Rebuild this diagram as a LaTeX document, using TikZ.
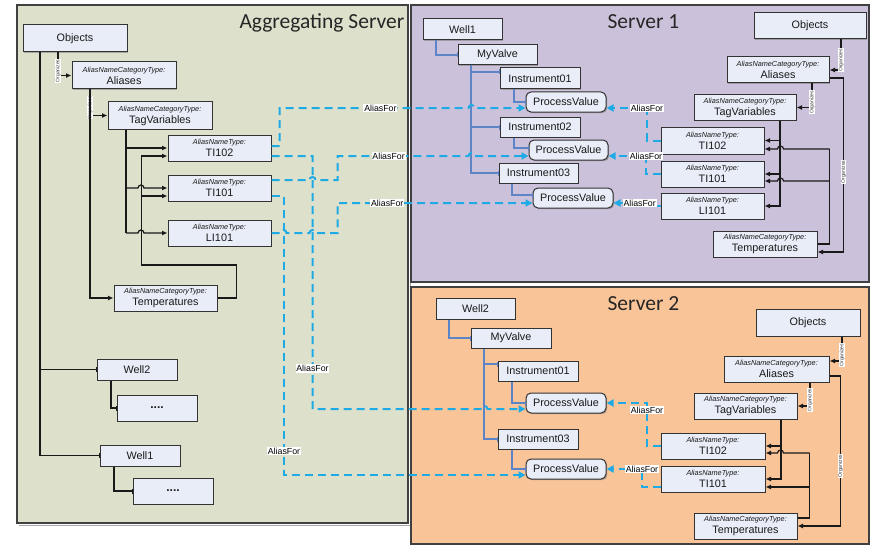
\documentclass[tikz,border=0pt]{standalone}
\usepackage{fontspec}
\setmainfont{Liberation Sans}
\newfontfamily\titlefont{Carlito}
\usetikzlibrary{arrows.meta,shadows}
\definecolor{panelA}{RGB}{221,224,203}
\definecolor{panelB}{RGB}{204,193,218}
\definecolor{panelC}{RGB}{249,196,152}
\definecolor{boxfill}{RGB}{232,237,247}
\definecolor{aliasblue}{RGB}{30,170,228}
\definecolor{compblue}{RGB}{92,132,198}
\newcommand\ctype[1]{{\fontsize{7.3}{8}\selectfont\itshape #1}\\}
\tikzset{
  box/.style={draw=black!80, line width=1pt, fill=boxfill, inner sep=0pt, align=center,
    text=black!90, font=\fontsize{10.8}{12}\selectfont,
    drop shadow={shadow xshift=1.2pt, shadow yshift=-1.2pt, fill=black!50, opacity=0.6}},
  pbox/.style={box, rounded corners=5pt},
  conn/.style={draw=black!90, line width=1.2pt, -{Latex[length=5.5pt,width=5pt]}},
  lineK/.style={draw=black!90, line width=1.2pt},
  compk/.style={draw=black!90, line width=1.2pt, -{Bar[width=5pt,line width=0.8pt]}},
  compb/.style={draw=compblue, line width=1.2pt, -{Bar[width=5pt,line width=0.8pt]}},
  aliasline/.style={draw=aliasblue, line width=2pt, dash pattern=on 8pt off 5pt,
    -{Triangle[length=7pt,width=7pt]}},
  org/.style={fill=white, inner sep=0.4pt, font=\fontsize{5}{5}\selectfont, rotate=90, text=black!80},
  afl/.style={fill=white, inner sep=0.8pt, font=\fontsize{8.8}{9}\selectfont, text=black},
  titl/.style={anchor=base west, font=\titlefont\fontsize{21.5}{24}\selectfont, text=black!85}
}
\begin{document}
\begin{tikzpicture}[x=1pt,y=-1pt]
\useasboundingbox (0,0) rectangle (876,551);
% panels
\fill[panelA] (17,5) rectangle (408,523);
\draw[black!35, line width=1pt] (19,525) -- (410,525) -- (410,7);
\draw[black!75, line width=1.2pt] (17,5) rectangle (408,523);
\fill[panelB] (411,5) rectangle (869,282);
\draw[black!75, line width=1.2pt] (411,5) rectangle (869,282);
\fill[panelC] (411,287) rectangle (869,544);
\draw[black!75, line width=1.2pt] (411,287) rectangle (869,544);
\node[titl] (ttA) at (236,29) {Aggregating Server};
\node[titl] (tt1) at (604,29) {Server 1};
\node[titl] (tt2) at (604,310) {Server 2};

% ---------- Aggregating server nodes
\node[box, minimum width=104pt, minimum height=27pt] (objA) at (75,38.5) {Objects};
\node[box, minimum width=104pt, minimum height=27pt] (aliA) at (124,75.5) {\ctype{AliasNameCategoryType:}Aliases};
\node[box, minimum width=104pt, minimum height=27pt] (tagA) at (160,115.5) {\ctype{AliasNameCategoryType:}TagVariables};
\node[box, minimum width=103pt, minimum height=26pt] (t102A) at (219.5,148) {\ctype{AliasNameType:}TI102};
\node[box, minimum width=103pt, minimum height=26pt] (t101A) at (219.5,188) {\ctype{AliasNameType:}TI101};
\node[box, minimum width=103pt, minimum height=26pt] (l101A) at (219.5,233) {\ctype{AliasNameType:}LI101};
\node[box, minimum width=103pt, minimum height=26pt] (tempA) at (165.5,298) {\ctype{AliasNameCategoryType:}Temperatures};
\node[box, minimum width=80pt, minimum height=21pt] (well2A) at (137,369.5) {Well2};
\node[box, minimum width=80pt, minimum height=26pt, font=\bfseries\fontsize{12}{12}\selectfont] (dots2A) at (157,408) {....};
\node[box, minimum width=80pt, minimum height=21pt] (well1A) at (140,455.5) {Well1};
\node[box, minimum width=80pt, minimum height=26pt, font=\bfseries\fontsize{12}{12}\selectfont] (dots1A) at (173,491) {....};

% ---------- Server 1 nodes
\node[box, minimum width=79pt, minimum height=21pt] (well1S1) at (462.5,29.5) {Well1};
\node[box, minimum width=79pt, minimum height=20pt] (mvS1) at (497.5,55) {MyValve};
\node[box, minimum width=80pt, minimum height=21pt] (i1S1) at (540,78.5) {Instrument01};
\node[pbox, minimum width=80pt, minimum height=20pt] (pv1S1) at (566,102) {ProcessValue};
\node[box, minimum width=80pt, minimum height=20pt] (i2S1) at (540,127) {Instrument02};
\node[pbox, minimum width=79pt, minimum height=20pt] (pv2S1) at (568.5,150) {ProcessValue};
\node[box, minimum width=79pt, minimum height=20pt] (i3S1) at (538.5,173) {Instrument03};
\node[pbox, minimum width=80pt, minimum height=20pt] (pv3S1) at (573,198) {ProcessValue};
\node[box, minimum width=112pt, minimum height=26pt] (objS1) at (810,26) {Objects};
\node[box, minimum width=102pt, minimum height=26pt] (aliS1) at (778,70) {\ctype{AliasNameCategoryType:}Aliases};
\node[box, minimum width=102pt, minimum height=25pt] (tagS1) at (745,107.5) {\ctype{AliasNameCategoryType:}TagVariables};
\node[box, minimum width=103pt, minimum height=27pt] (t102S1) at (712.5,140.5) {\ctype{AliasNameType:}TI102};
\node[box, minimum width=103pt, minimum height=26pt] (t101S1) at (712.5,174) {\ctype{AliasNameType:}TI101};
\node[box, minimum width=103pt, minimum height=26pt] (l101S1) at (712.5,206) {\ctype{AliasNameType:}LI101};
\node[box, minimum width=104pt, minimum height=26pt] (tempS1) at (765,244) {\ctype{AliasNameCategoryType:}Temperatures};

% ---------- Server 2 nodes
\node[box, minimum width=79pt, minimum height=21pt] (well2S2) at (475.5,308.5) {Well2};
\node[box, minimum width=80pt, minimum height=20pt] (mvS2) at (511,338) {MyValve};
\node[box, minimum width=80pt, minimum height=20pt] (i1S2) at (538,371) {Instrument01};
\node[pbox, minimum width=80pt, minimum height=20pt] (pv1S2) at (566,403) {ProcessValue};
\node[box, minimum width=80pt, minimum height=20pt] (i3S2) at (538,439) {Instrument03};
\node[pbox, minimum width=80pt, minimum height=20pt] (pv2S2) at (566,469) {ProcessValue};
\node[box, minimum width=104pt, minimum height=27pt] (objS2) at (808,322.5) {Objects};
\node[box, minimum width=105pt, minimum height=26pt] (aliS2) at (776.5,369) {\ctype{AliasNameCategoryType:}Aliases};
\node[box, minimum width=103pt, minimum height=26pt] (tagS2) at (745.5,406) {\ctype{AliasNameCategoryType:}TagVariables};
\node[box, minimum width=104pt, minimum height=26pt] (t102S2) at (713,446) {\ctype{AliasNameType:}TI102};
\node[box, minimum width=104pt, minimum height=26pt] (t101S2) at (713,479) {\ctype{AliasNameType:}TI101};
\node[box, minimum width=103pt, minimum height=26pt] (tempS2) at (745.5,526) {\ctype{AliasNameCategoryType:}Temperatures};

% ---------- Aggregating server connectors
\draw[conn] ([xshift=-17pt]objA.south) |- node[org,pos=0.4]{Organizes} (aliA.west);
\draw[conn] ([xshift=-34pt]aliA.south) |- node[org,pos=0.35]{Organizes} (tagA.west);
\draw[conn] ([xshift=-34pt]aliA.south) |- (tempA.west);
\draw[compk] ([xshift=-35pt]objA.south) |- (well2A.west);
\draw[compk] ([xshift=-35pt]objA.south) |- (well1A.west);
\draw[compk] ([xshift=-26pt]well2A.south) |- (dots2A.west);
\draw[compk] ([xshift=-26pt]well1A.south) |- (dots1A.west);
\coordinate (tgA) at ([xshift=-34pt]tagA.south);
\draw[conn] (tgA) |- (t102A.west);
\draw[lineK] (tgA) -- (tgA |- l101A.west);
\draw[conn] (tgA |- t101A.west) -- ++(12,0) arc[start angle=180,end angle=0,radius=3pt] -- (t101A.west);
\draw[conn] (tgA |- l101A.west) -- ++(12,0) arc[start angle=180,end angle=0,radius=3pt] -- (l101A.west);
\coordinate (t102Ab) at ([yshift=-8pt]t102A.west);
\coordinate (t101Ab) at ([yshift=-8pt]t101A.west);
\draw[conn] (tempA.east) -- ++(19,0) -- ++(0,-33) -- ++(-95,0) |- (t102Ab);
\draw[conn] ([xshift=-27pt]t101Ab) -- (t101Ab);

% ---------- Server 1 connectors
\draw[compb] ([xshift=-26.5pt]well1S1.south) |- (mvS1.west);
\coordinate (mvS1t) at ([xshift=-26.5pt]mvS1.south);
\draw[compb] (mvS1t) |- ([yshift=6.5pt]i1S1.west);
\draw[compb] (mvS1t) |- (i2S1.west);
\draw[compb] (mvS1t) |- (i3S1.west);
\draw[compb] ([xshift=-26pt]i1S1.south) |- (pv1S1.west);
\draw[compb] ([xshift=-26pt]i2S1.south) |- ([yshift=2pt]pv2S1.west);
\draw[compb] ([xshift=-26.5pt]i3S1.south) |- ([yshift=3pt]pv3S1.west);
\draw[conn] ([xshift=31pt]objS1.south) |- node[org,pos=0.34]{Organizes} (aliS1.east);
\draw[conn] ([xshift=34pt]aliS1.south) |- node[org,pos=0.39]{Organizes} (tagS1.east);
\draw[conn] ([yshift=-8pt]aliS1.east) -- ++(14,0) |- node[org,pos=0.27]{Organizes} ([yshift=-8pt]tempS1.east);
\coordinate (tgS1) at ([xshift=35pt]tagS1.south);
\draw[conn] (tgS1) |- (t102S1.east);
\draw[conn] (tgS1) |- (t101S1.east);
\draw[conn] (tgS1) |- (l101S1.east);
\coordinate (tpS1) at ([xshift=12pt]tempS1.east);
\coordinate (t102S1b) at ([yshift=-8.5pt]t102S1.east);
\coordinate (t101S1b) at ([yshift=-7pt]t101S1.east);
\draw[lineK] (tempS1.east) -- (tpS1) -- (tpS1 |- t102S1b);
\draw[conn] (tpS1 |- t102S1b) -- ++(-46,0) arc[start angle=0,end angle=180,radius=3pt] -- (t102S1b);
\draw[conn] (tpS1 |- t101S1b) -- ++(-46,0) arc[start angle=0,end angle=180,radius=3pt] -- (t101S1b);

% ---------- Server 2 connectors
\draw[compb] ([xshift=-26.5pt]well2S2.south) |- (mvS2.west);
\coordinate (mvS2t) at ([xshift=-27pt]mvS2.south);
\draw[compb] (mvS2t) |- ([yshift=7pt]i1S2.west);
\draw[compb] (mvS2t) |- (i3S2.west);
\draw[compb] ([xshift=-26pt]i1S2.south) |- (pv1S2.west);
\draw[compb] ([xshift=-26pt]i3S2.south) |- (pv2S2.west);
\draw[conn] ([xshift=34pt]objS2.south) |- node[org,pos=0.38]{Organizes} ([yshift=8pt]aliS2.east);
\draw[conn] ([xshift=33.5pt]aliS2.south) |- node[org,pos=0.37]{Organizes} (tagS2.east);
\draw[conn] ([yshift=-7pt]aliS2.east) -- ++(11,0) |- node[org,pos=0.3]{Organizes} (tempS2.east);
\coordinate (tgS2) at ([xshift=35.5pt]tagS2.south);
\draw[conn] (tgS2) |- (t102S2.east);
\draw[conn] (tgS2) |- (t101S2.east);
\coordinate (tpS2) at ([xshift=12pt,yshift=8pt]tempS2.east);
\coordinate (t102S2b) at ([yshift=-7pt]t102S2.east);
\coordinate (t101S2b) at ([yshift=-8pt]t101S2.east);
\draw[lineK] ([yshift=8pt]tempS2.east) -- (tpS2) -- (tpS2 |- t102S2b);
\draw[conn] (tpS2 |- t102S2b) -- ++(-26,0) arc[start angle=0,end angle=180,radius=3pt] -- (t102S2b);
\draw[conn] (tpS2 |- t101S2b) -- (t101S2b);

% ---------- AliasFor references
\draw[aliasline] ([yshift=2pt]t102A.east) -- ++(8,0) -- ++(0,-38) -- node[afl,pos=0.534]{AliasFor} ++(189,0) arc[start angle=180,end angle=0,radius=3pt] -- ([yshift=-6pt]pv1S1.west);
\draw[aliasline] ([yshift=-8pt]t102A.east) -- ++(41,0) -- node[afl,pos=0.84]{AliasFor} ++(0,253) -- ++(169,0) arc[start angle=180,end angle=0,radius=3pt] -- ([yshift=-6pt]pv1S2.west);
\draw[aliasline] ([yshift=8pt]t101A.east) -- ++(38,0) arc[start angle=180,end angle=0,radius=3pt] -- ++(22,0) -- ++(0,-24) -- node[afl,pos=0.39]{AliasFor} ++(131,0) arc[start angle=180,end angle=0,radius=3pt] -- ([yshift=-6pt]pv2S1.west);
\draw[aliasline] ([yshift=-8pt]t101A.east) -- ++(12.5,0) -- node[afl,pos=0.914]{AliasFor} ++(0,279) -- ([yshift=-6pt]pv2S2.west);
\draw[aliasline] (l101A.east) -- ++(9,0) arc[start angle=180,end angle=0,radius=3pt] -- ++(23,0) arc[start angle=180,end angle=0,radius=3pt] -- ++(22,0) -- ++(0,-30) -- node[afl,pos=0.255]{AliasFor} ([yshift=-5pt]pv3S1.west);
\draw[aliasline] (t102S1.west) -- ++(-13.5,0) |- node[afl,pos=0.5]{AliasFor} ([yshift=-6pt]pv1S1.east);
\draw[aliasline] (t101S1.west) -- ++(-14.5,0) |- node[afl,pos=0.5]{AliasFor} ([yshift=-6pt]pv2S1.east);
\draw[aliasline] (l101S1.west) -- ++(-8.5,0) |- node[afl,pos=0.66]{AliasFor} ([yshift=-5pt]pv3S1.east);
\draw[aliasline] (t102S2.west) -- ++(-13.5,0) |- node[afl,pos=0.42]{AliasFor} (pv1S2.east);
\draw[aliasline] ([yshift=-8pt]t101S2.west) -- ++(-18.5,0) |- node[afl,pos=0.5]{AliasFor} (pv2S2.east);
\end{tikzpicture}
\end{document}
